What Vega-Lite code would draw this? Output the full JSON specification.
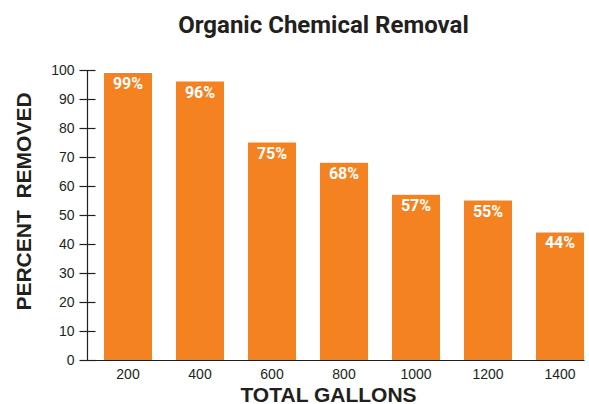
{
  "$schema": "https://vega.github.io/schema/vega-lite/v6.json",
  "width": 497,
  "height": 290,
  "autosize": "none",
  "padding": {"left": 87, "top": 70, "right": 5, "bottom": 44},
  "background": "white",
  "title": {
    "text": "Organic Chemical Removal",
    "font": "Roboto",
    "fontSize": 24,
    "fontWeight": "bold",
    "color": "#231F20",
    "anchor": "middle",
    "dx": -12,
    "offset": 25
  },
  "config": {
    "view": {"stroke": null},
    "axis": {
      "labelFont": "Liberation Sans",
      "labelFontSize": 14,
      "labelColor": "#231F20",
      "titleFont": "Liberation Sans",
      "titleFontSize": 21,
      "titleFontWeight": "bold",
      "titleColor": "#231F20",
      "domainColor": "#231F20",
      "tickColor": "#231F20",
      "grid": false
    }
  },
  "data": {
    "values": [
      {"gallons": 200, "percent": 99, "label": "99%"},
      {"gallons": 400, "percent": 96, "label": "96%"},
      {"gallons": 600, "percent": 75, "label": "75%"},
      {"gallons": 800, "percent": 68, "label": "68%"},
      {"gallons": 1000, "percent": 57, "label": "57%"},
      {"gallons": 1200, "percent": 55, "label": "55%"},
      {"gallons": 1400, "percent": 44, "label": "44%"}
    ]
  },
  "encoding": {
    "x": {
      "field": "gallons",
      "type": "ordinal",
      "sort": "ascending",
      "scale": {"paddingInner": 0.3333, "paddingOuter": 0.118, "align": 1},
      "axis": {
        "title": "TOTAL GALLONS",
        "labelAngle": 0,
        "ticks": false,
        "tickSize": 0,
        "labelPadding": 7,
        "titlePadding": 3,
        "titleX": 241,
        "domainWidth": 1.2
      }
    }
  },
  "layer": [
    {
      "mark": {"type": "bar", "color": "#F58220"},
      "encoding": {
        "y": {
          "field": "percent",
          "type": "quantitative",
          "scale": {"domain": [0, 100], "nice": false},
          "axis": {
            "title": "PERCENT\u00a0\u00a0REMOVED",
            "values": [0, 10, 20, 30, 40, 50, 60, 70, 80, 90, 100],
            "domain": false,
            "offset": -8,
            "tickSize": 16,
            "tickWidth": 1.2,
            "labelPadding": 5,
            "titlePadding": 16,
            "titleY": 131
          }
        }
      }
    },
    {
      "mark": {
        "type": "text",
        "baseline": "top",
        "dy": 3,
        "color": "white",
        "font": "Roboto",
        "fontSize": 16,
        "fontWeight": "bold"
      },
      "encoding": {
        "y": {
          "field": "percent",
          "type": "quantitative",
          "axis": {
            "orient": "left",
            "title": null,
            "labels": false,
            "ticks": false,
            "domain": true,
            "domainWidth": 1.2
          }
        },
        "text": {"field": "label"}
      }
    }
  ],
  "resolve": {"axis": {"y": "independent"}}
}
